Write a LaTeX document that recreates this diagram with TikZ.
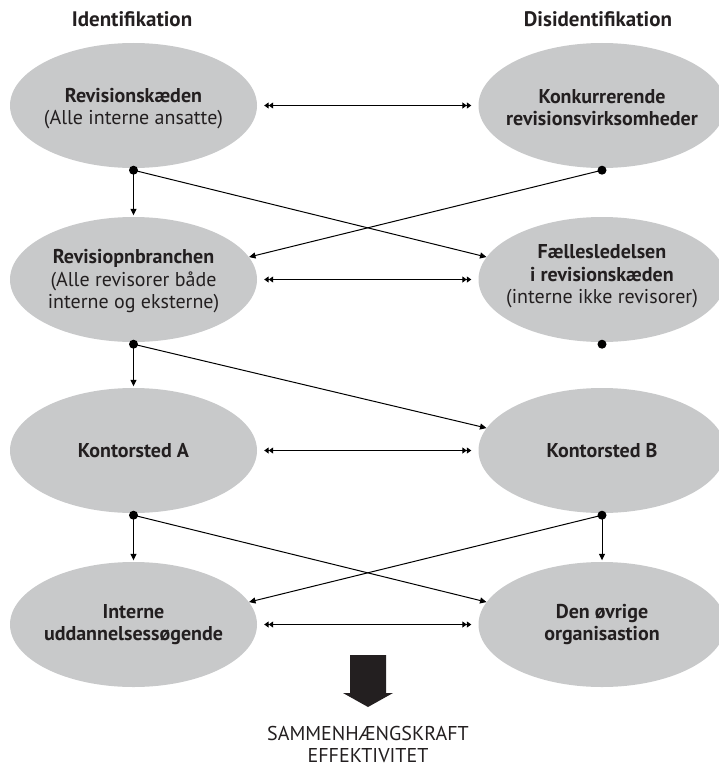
\documentclass[tikz,border=0pt]{standalone}
\usepackage{fontspec}
\setmainfont{PT Sans}
\usetikzlibrary{shapes.geometric,arrows.meta,calc}
\definecolor{ellgray}{HTML}{C8C9CA}
\definecolor{txt}{HTML}{231F20}
\begin{document}
\begin{tikzpicture}[x=1pt,y=-1pt,
  ell/.style={ellipse, fill=ellgray, minimum width=247pt, minimum height=125pt, inner sep=0pt},
  lbl/.style={align=center, text=txt, font=\fontsize{20}{22.5}\selectfont, inner sep=0pt},
  head/.style={font=\bfseries\fontsize{21}{22}\selectfont, text=txt, anchor=base, inner sep=0pt},
  conn/.style={line width=1pt, -{Triangle[length=6.5pt,width=6pt]}},
  dbl/.style={line width=1pt, {Triangle[length=4.5pt,width=6pt,sep=0pt]Triangle[length=4.5pt,width=6pt]}-{Triangle[length=4.5pt,width=6pt,sep=0pt]Triangle[length=4.5pt,width=6pt]}, shorten <=7pt, shorten >=7pt},
  dotn/.style={circle, fill=black, inner sep=0pt, minimum size=9pt}]
\useasboundingbox (0,0) rectangle (719,768);
\clip (0,0) rectangle (719,768);

% titles
\node[head] (tL) at (132,27) {Identifikation};
\node[head] (tR) at (598,27) {Disidentifikation};

% ellipses
\node[ell] (L1) at (133.5,105.5) {};
\node[ell] (R1) at (602,105.5) {};
\node[ell] (L2) at (133.5,279.5) {};
\node[ell] (R2) at (602,279.5) {};
\node[ell] (L3) at (133.5,450.5) {};
\node[ell] (R3) at (602,450.5) {};
\node[ell] (L4) at (133.5,624.5) {};
\node[ell] (R4) at (602,624.5) {};

% labels
\node[lbl] (L1t) at ($(L1)+(0,3)$) {\textbf{Revisionskæden}\\(Alle interne ansatte)};
\node[lbl] (R1t) at ($(R1)+(0,2)$) {\textbf{Konkurrerende}\\\textbf{revisionsvirksomheder}};
\node[lbl] (L2t) at ($(L2)+(0,2)$) {\textbf{Revisiopnbranchen}\\(Alle revisorer både\\interne og eksterne)};
\node[lbl] (R2t) at ($(R2)+(0,-3)$) {\textbf{Fællesledelsen}\\\textbf{i revisionskæden}\\(interne ikke revisorer)};
\node[lbl] (L3t) at (L3) {\textbf{Kontorsted A}};
\node[lbl] (R3t) at (R3) {\textbf{Kontorsted B}};
\node[lbl] (L4t) at ($(L4)+(0,0)$) {\textbf{Interne}\\\textbf{uddannelsessøgende}};
\node[lbl] (R4t) at ($(R4)+(0,0)$) {\textbf{Den øvrige}\\\textbf{organisastion}};

% dots
\node[dotn] (dL1) at ($(L1.south)+(0,2)$) {};
\node[dotn] (dR1) at ($(R1.south)+(0,2)$) {};
\node[dotn] (dL2) at ($(L2.south)+(0,2)$) {};
\node[dotn] (dR2) at ($(R2.south)+(0,2)$) {};
\node[dotn] (dL3) at ($(L3.south)+(0,2)$) {};
\node[dotn] (dR3) at ($(R3.south)+(0,2)$) {};

% horizontal double arrows
\draw[dbl] (L1.east) -- (R1.west);
\draw[dbl] (L2.east) -- (R2.west);
\draw[dbl] (L3.east) -- (R3.west);
\draw[dbl] (L4.east) -- (R4.west);

% vertical arrows
\draw[conn, shorten >=1.5pt] (dL1.center) -- (L2.north);
\draw[conn, shorten >=1.5pt] (dL2.center) -- (L3.north);
\draw[conn, shorten >=1.5pt] (dL3.center) -- (L4.north);
\draw[conn, shorten >=1.5pt] (dR3.center) -- (R4.north);

% diagonal arrows
\draw[conn] (dL1.center) -- (R2.169);
\draw[conn] (dR1.center) -- (L2.11);
\draw[conn] (dL2.center) -- (R3.169);
\draw[conn] (dL3.center) -- (R4.169);
\draw[conn] (dR3.center) -- (L4.11);

% big arrow
\fill[txt] (350,655) -- (386,655) -- (386,693) -- (393,693) -- (368,707) -- (343,693) -- (350,693) -- cycle;

% bottom text
\node[anchor=base, text=txt, font=\fontsize{20}{23}\selectfont, inner sep=0pt] (res1) at (368,740) {SAMMENHÆNGSKRAFT};
\node[anchor=base, text=txt, font=\fontsize{20}{23}\selectfont, inner sep=0pt] (res2) at (368,762.5) {EFFEKTIVITET};
\end{tikzpicture}
\end{document}
